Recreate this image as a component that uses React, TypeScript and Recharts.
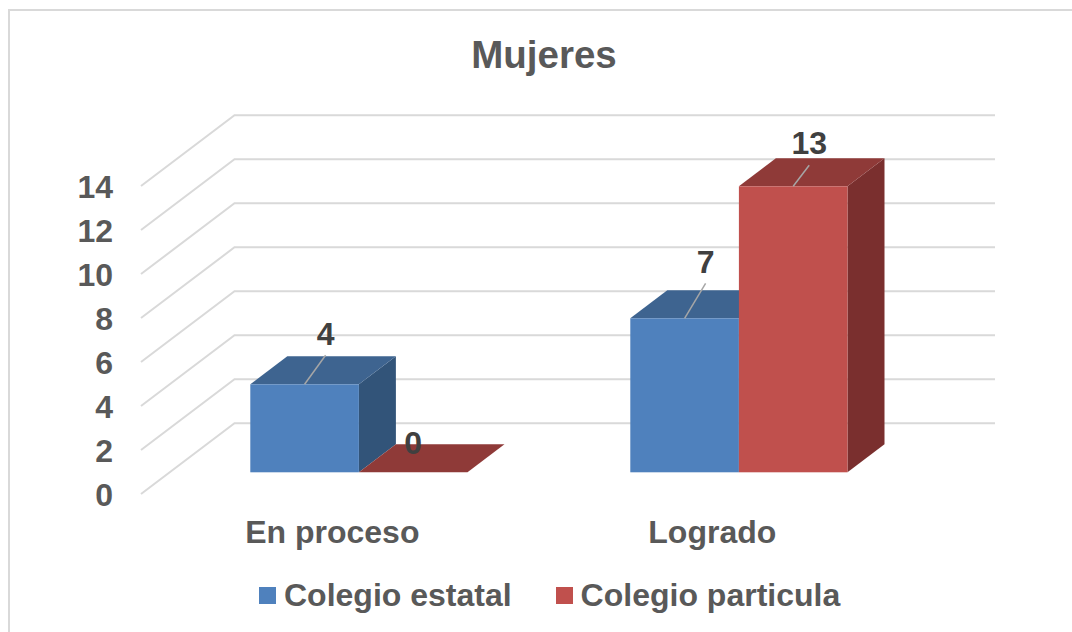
import { Bar, BarChart, CartesianGrid, LabelList, Legend, XAxis, YAxis } from "recharts";

const categories = ["En proceso", "Logrado"];
const colegioEstatal = [4, 7];
const colegioParticular = [0, 13];
const yTicks = [0, 2, 4, 6, 8, 10, 12, 14];

const chartData = categories.map((name, i) => ({
  name,
  estatal: colegioEstatal[i],
  particular: colegioParticular[i],
}));

const FONT = "'Liberation Sans', Arial, sans-serif";
const TEXT_GREY = "#595959";
const GRID = "#d9d9d9";
const DEPTH_X = 37;
const DEPTH_Y = 28;

const blue = { front: "#4f81bd", top: "#3e6490", side: "#325479" };
const red = { front: "#c0504d", top: "#8f3a38", side: "#7a2f2e" };

// hand placed data labels, offsets from the front top centre of the bar
const estatalLabelPos = [
  { lx: 21, ly: -29, tx: 21, ty: -50 },
  { lx: 21, ly: -35, tx: 21, ty: -56 },
];
const particularLabelPos = [
  { lx: 0, ly: 0, tx: 0, ty: -29 },
  { lx: 16, ly: -21, tx: 16, ty: -43 },
];

const Box3D = (colors: typeof blue) => (props: any) => {
  const { x, y, width, height } = props;
  const r = x + width;
  const b = y + height;
  return (
    <g>
      {height > 0 && (
        <path
          d={`M${r},${y}L${r + DEPTH_X},${y - DEPTH_Y}L${r + DEPTH_X},${b - DEPTH_Y}L${r},${b}Z`}
          fill={colors.side}
        />
      )}
      <path
        d={`M${x},${y}L${x + DEPTH_X},${y - DEPTH_Y}L${r + DEPTH_X},${y - DEPTH_Y}L${r},${y}Z`}
        fill={colors.top}
      />
      {height > 0 && <rect x={x} y={y} width={width} height={height} fill={colors.front} />}
    </g>
  );
};

const DataLabel = (positions: typeof estatalLabelPos) => (props: any) => {
  const { x, y, width, value, index } = props;
  const cx = x + width / 2;
  const p = positions[index];
  return (
    <g>
      {value > 0 && (
        <line x1={cx} y1={y} x2={cx + p.lx} y2={y + p.ly} stroke="#a6a6a6" strokeWidth={1.5} />
      )}
      <text
        x={cx + p.tx}
        y={y + p.ty}
        textAnchor="middle"
        dominantBaseline="central"
        fontFamily={FONT}
        fontWeight="bold"
        fontSize={32}
        fill="#404040"
      >
        {value}
      </text>
    </g>
  );
};

const gridLine = (props: any) => {
  const y = props.y1;
  return (
    <polyline
      key={props.key}
      points={`141,${y + 21.7} 234.5,${y - 49} 995,${y - 49}`}
      fill="none"
      stroke={GRID}
      strokeWidth={2}
    />
  );
};

const YTick = (props: any) => (
  <text
    x={113}
    y={props.y + 22.4}
    textAnchor="end"
    dominantBaseline="central"
    fontFamily={FONT}
    fontWeight="bold"
    fontSize={32}
    fill={TEXT_GREY}
  >
    {props.payload.value}
  </text>
);

const XTick = (props: any) => (
  <text
    x={props.x - 27}
    y={532}
    textAnchor="middle"
    dominantBaseline="central"
    fontFamily={FONT}
    fontWeight="bold"
    fontSize={32}
    fill={TEXT_GREY}
  >
    {props.payload.value}
  </text>
);

const LegendRow = ({ payload }: any) => (
  <div style={{ display: "flex", fontFamily: FONT, fontWeight: "bold", fontSize: 32, color: TEXT_GREY }}>
    {(payload || []).map((item: any, i: number) => (
      <div
        key={item.value}
        style={{ display: "flex", alignItems: "center", marginRight: i === 0 ? 44 : 0, whiteSpace: "nowrap" }}
      >
        <span style={{ width: 17, height: 17, background: item.color, marginRight: 8, display: "inline-block" }} />
        {item.value}
      </div>
    ))}
  </div>
);

export default function App() {
  return (
    <div style={{ position: "absolute", left: 0, top: 0, width: 1072, height: 632, background: "#fff", overflow: "hidden" }}>
      <div
        style={{
          position: "absolute",
          left: 8,
          top: 9,
          width: 1200,
          height: 700,
          border: `2px solid ${GRID}`,
          boxSizing: "border-box",
        }}
      />
      <div style={{ position: "absolute", left: 0, top: 0 }}>
        <BarChart
          width={1072}
          height={632}
          data={chartData}
          margin={{ top: 164.3, right: 142.7, bottom: 121.7, left: 168.3 }}
          barSize={108.6}
          barGap={0}
        >
          <text
            x={544}
            y={54}
            textAnchor="middle"
            dominantBaseline="central"
            fontFamily={FONT}
            fontWeight="bold"
            fontSize={38.5}
            fill={TEXT_GREY}
          >
            Mujeres
          </text>
          <CartesianGrid vertical={false} horizontal={gridLine} />
          <XAxis dataKey="name" axisLine={false} tickLine={false} tick={XTick} height={1} interval={0} />
          <YAxis domain={[0, 14]} ticks={yTicks} axisLine={false} tickLine={false} tick={YTick} width={1} interval={0} />
          <Bar dataKey="estatal" name="Colegio estatal" fill={blue.front} shape={Box3D(blue)} isAnimationActive={false}>
            <LabelList dataKey="estatal" content={DataLabel(estatalLabelPos)} />
          </Bar>
          <Bar dataKey="particular" name="Colegio particula" fill={red.front} shape={Box3D(red)} isAnimationActive={false}>
            <LabelList dataKey="particular" content={DataLabel(particularLabelPos)} />
          </Bar>
          <Legend
            content={LegendRow}
            wrapperStyle={{ position: "absolute", left: 259, top: 577, width: "auto", bottom: "auto" }}
          />
        </BarChart>
      </div>
    </div>
  );
}
